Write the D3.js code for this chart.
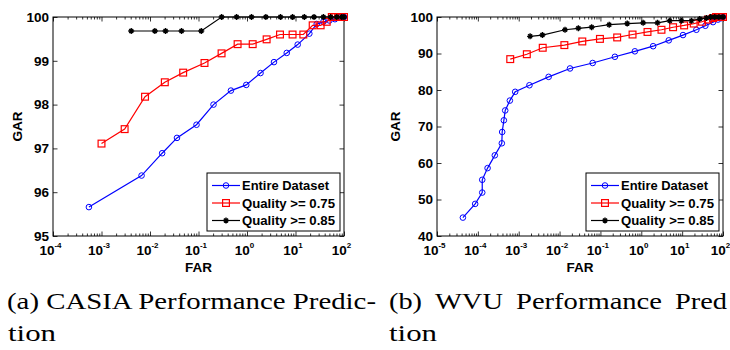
<!DOCTYPE html>
<html>
<head>
<meta charset="utf-8">
<script src="https://cdn.jsdelivr.net/npm/d3@7"></script>
<style>
  html, body { margin: 0; padding: 0; background: #fff; }
  svg { display: block; }
  .lbl { font-family: "Liberation Sans", Arial, sans-serif; font-weight: 700; fill: #000; }
  .cap { font-family: "Liberation Serif", "Times New Roman", serif; font-weight: 400; fill: #000; }
</style>
</head>
<body>
<svg id="chart" width="730" height="350"></svg>
<script>
// ---------- DATA ----------
const seriesNames = ["Entire Dataset", "Quality >= 0.75", "Quality >= 0.85"];

// (a) CASIA
const casiaEntireFAR = [5.5e-4, 6.7e-3, 0.0178, 0.036, 0.091, 0.204, 0.466, 0.966, 1.9, 3.6, 6.6, 11.1, 19.3, 27.4, 37.6, 50, 65, 83, 100];
const casiaEntireGAR = [95.66, 96.38, 96.89, 97.24, 97.54, 98.0, 98.32, 98.45, 98.72, 98.97, 99.18, 99.37, 99.62, 99.84, 99.89, 99.92, 99.95, 100, 100];
const casiaQ75FAR = [1.0e-3, 3.0e-3, 7.9e-3, 0.0202, 0.0483, 0.133, 0.299, 0.64, 1.31, 2.54, 4.79, 8.7, 14.5, 22.6, 33, 44, 56, 66, 76, 87, 100];
const casiaQ75GAR = [97.11, 97.44, 98.18, 98.51, 98.73, 98.95, 99.17, 99.38, 99.38, 99.49, 99.6, 99.6, 99.6, 99.81, 99.81, 99.89, 100, 100, 100, 100, 100];
const casiaQ85FAR = [4.1e-3, 0.0126, 0.0209, 0.0447, 0.114, 0.3, 0.61, 1.24, 2.45, 4.9, 8.7, 15.2, 24.1, 37.6, 53, 71, 90, 100];
const casiaQ85GAR = [99.68, 99.68, 99.68, 99.68, 99.68, 100, 100, 100, 100, 100, 100, 100, 100, 100, 100, 100, 100, 100];

// (b) WVU
const wvuEntireFAR = [4.3e-5, 8.6e-5, 1.28e-4, 1.28e-4, 1.73e-4, 2.6e-4, 3.86e-4, 3.94e-4, 4.33e-4, 4.67e-4, 6.07e-4, 8.2e-4, 1.83e-3, 5.4e-3, 0.018, 0.0646, 0.226, 0.697, 1.95, 4.71, 10.5, 22.3, 37, 57, 75.5, 91, 100];
const wvuEntireGAR = [45.04, 48.8, 51.9, 55.4, 58.6, 62.1, 65.4, 68.5, 71.7, 74.4, 77.1, 79.5, 81.3, 83.6, 85.9, 87.4, 89.1, 90.6, 92.0, 93.6, 95.05, 96.5, 97.6, 98.6, 99.3, 99.7, 100];
const wvuQ75FAR = [6.2e-4, 1.58e-3, 3.87e-3, 0.0131, 0.036, 0.0973, 0.257, 0.611, 1.42, 3.12, 6.0, 11.2, 19.2, 30.7, 42.7, 57, 67.6, 79.4, 91, 100];
const wvuQ75GAR = [88.46, 89.8, 91.57, 92.3, 93.3, 94.0, 94.4, 95.2, 95.9, 96.5, 97.2, 97.7, 98.2, 98.7, 99.3, 99.7, 100, 100, 100, 100];
const wvuQ85FAR = [1.9e-3, 3.8e-3, 0.0136, 0.0288, 0.061, 0.164, 0.453, 1.11, 2.49, 4.98, 9.6, 16.9, 26.9, 39.2, 50, 63, 79.4, 100];
const wvuQ85GAR = [94.7, 95.05, 96.5, 96.9, 97.2, 97.9, 98.2, 98.4, 98.4, 99.0, 99.0, 99.0, 99.45, 99.7, 100, 100, 100, 100];

const casiaYTicks = [95, 96, 97, 98, 99, 100];
const wvuYTicks = [40, 50, 60, 70, 80, 90, 100];
const casiaXDomain = [1e-4, 1e2];
const wvuXDomain = [1e-5, 1e2];
const casiaYDomain = [95, 100];
const wvuYDomain = [40, 100];
const captionA = ["(a) CASIA Performance Predic-", "tion"];
const captionB = ["(b)", "WVU", "Performance", "Pred"];
const captionB2 = "tion";

// ---------- DRAW ----------
const svg = d3.select("#chart");
svg.append("rect").attr("width", 730).attr("height", 350).attr("fill", "#fff");

const colors = ["#0000ff", "#ff0000", "#000000"];

function zip(xs, ys) { return xs.map((x, i) => ({ x, y: ys[i] })); }

function drawPanel(opts) {
  const { left, right, top, bottom, xDomain, yDomain, yTicks, series, gx } = opts;
  const g = svg.append("g");
  const x = d3.scaleLog().domain(xDomain).range([left, right]);
  const y = d3.scaleLinear().domain(yDomain).range([bottom, top]);

  const allTicks = x.ticks();
  const majors = allTicks.filter(t => Math.abs(Math.log10(t) - Math.round(Math.log10(t))) < 1e-9);
  const minors = allTicks.filter(t => !majors.includes(t));

  g.append("g").attr("transform", `translate(0,${bottom})`)
    .call(d3.axisBottom(x).tickValues(minors).tickSize(-2.5).tickSizeOuter(0).tickFormat(""))
    .call(s => s.select(".domain").remove());
  g.append("g").attr("transform", `translate(0,${top})`)
    .call(d3.axisTop(x).tickValues(minors).tickSize(-2.5).tickSizeOuter(0).tickFormat(""))
    .call(s => s.select(".domain").remove());
  g.append("g").attr("transform", `translate(0,${top})`)
    .call(d3.axisTop(x).tickValues(majors).tickSize(-4.5).tickSizeOuter(0).tickFormat(""))
    .call(s => s.select(".domain").remove());
  const xa = g.append("g").attr("transform", `translate(0,${bottom})`)
    .call(d3.axisBottom(x).tickValues(majors).tickSize(-4.5).tickSizeOuter(0).tickPadding(7).tickFormat(""))
    .call(s => s.select(".domain").remove());
  xa.selectAll(".tick").each(function(d) {
    const t = d3.select(this).select("text");
    t.attr("class", "lbl").attr("font-family", null).attr("font-size", 13.5)
      .attr("dy", "0.9em").attr("dx", "-3");
    t.append("tspan").text("10");
    t.append("tspan").text(String(Math.round(Math.log10(d))))
      .attr("font-size", 8).attr("dy", "-7");
  });

  const ya = g.append("g").attr("transform", `translate(${left},0)`)
    .call(d3.axisLeft(y).tickValues(yTicks).tickSize(-4.5).tickSizeOuter(0).tickPadding(4).tickFormat(d3.format("d")))
    .call(s => s.select(".domain").remove());
  ya.selectAll("text").attr("class", "lbl").attr("font-size", 13.5);
  g.append("g").attr("transform", `translate(${right},0)`)
    .call(d3.axisRight(y).tickValues(yTicks).tickSize(-4.5).tickSizeOuter(0).tickFormat(""))
    .call(s => s.select(".domain").remove());
  g.selectAll(".tick line").attr("stroke", "#000").attr("stroke-width", 0.8);
  g.selectAll("g").attr("font-family", null).attr("font-size", null);

  g.append("rect").attr("x", left).attr("y", top).attr("width", right - left).attr("height", bottom - top)
    .attr("fill", "none").attr("stroke", "#000").attr("stroke-width", 1);

  g.append("text").attr("class", "lbl").attr("x", (left + right) / 2).attr("y", bottom + 36)
    .attr("text-anchor", "middle").attr("font-size", 13.5).text("FAR");
  g.append("text").attr("class", "lbl").attr("transform", `translate(${gx},${(top + bottom) / 2}) rotate(-90)`)
    .attr("text-anchor", "middle").attr("font-size", 13.5).text("GAR");

  const clipId = "clip" + left;
  svg.append("clipPath").attr("id", clipId).append("rect")
    .attr("x", left - 6).attr("y", top - 6).attr("width", right - left + 12).attr("height", bottom - top + 12);
  const plot = g.append("g").attr("clip-path", `url(#${clipId})`);
  const line = d3.line().x(d => x(d.x)).y(d => y(d.y));
  series.forEach((s, i) => {
    const pts = zip(s[0], s[1]);
    plot.append("path").datum(pts).attr("d", line).attr("fill", "none")
      .attr("stroke", colors[i]).attr("stroke-width", 1.2);
    drawMarkers(plot, pts.map(p => [x(p.x), y(p.y)]), i);
  });

  const lg = g.append("g");
  const lx = right - 137, ly = bottom - 63;
  lg.append("rect").attr("x", lx).attr("y", ly).attr("width", 133).attr("height", 58)
    .attr("fill", "#fff").attr("stroke", "#000").attr("stroke-width", 1);
  seriesNames.forEach((n, i) => {
    const yy = ly + 12.5 + i * 17.5;
    lg.append("line").attr("x1", lx + 5).attr("x2", lx + 33).attr("y1", yy).attr("y2", yy)
      .attr("stroke", colors[i]).attr("stroke-width", 1.2);
    drawMarkers(lg, [[lx + 19, yy]], i);
    lg.append("text").attr("class", "lbl").attr("x", lx + 35).attr("y", yy).attr("dy", "0.36em")
      .attr("font-size", 13).attr("textLength", i === 0 ? 87 : 93).attr("lengthAdjust", "spacingAndGlyphs").text(n);
  });
}

function drawMarkers(sel, pts, i) {
  if (i === 0) {
    sel.selectAll(null).data(pts).enter().append("circle")
      .attr("cx", d => d[0]).attr("cy", d => d[1]).attr("r", 2.8)
      .attr("fill", "none").attr("stroke", colors[0]).attr("stroke-width", 1);
  } else if (i === 1) {
    sel.selectAll(null).data(pts).enter().append("rect")
      .attr("x", d => d[0] - 3.4).attr("y", d => d[1] - 3.4).attr("width", 6.8).attr("height", 6.8)
      .attr("fill", "none").attr("stroke", colors[1]).attr("stroke-width", 1.2);
  } else {
    sel.selectAll(null).data(pts).enter().append("path")
      .attr("d", d => `M${d[0]-3},${d[1]}L${d[0]+3},${d[1]}M${d[0]},${d[1]-3}L${d[0]},${d[1]+3}M${d[0]-2},${d[1]-2}L${d[0]+2},${d[1]+2}M${d[0]-2},${d[1]+2}L${d[0]+2},${d[1]-2}`)
      .attr("stroke", colors[2]).attr("stroke-width", 1.4).attr("fill", "none");
  }
}

drawPanel({
  left: 53, right: 344, top: 17, bottom: 236,
  xDomain: casiaXDomain, yDomain: casiaYDomain, yTicks: casiaYTicks, gx: 22,
  series: [[casiaEntireFAR, casiaEntireGAR], [casiaQ75FAR, casiaQ75GAR], [casiaQ85FAR, casiaQ85GAR]]
});
drawPanel({
  left: 437, right: 723, top: 17, bottom: 236,
  xDomain: wvuXDomain, yDomain: wvuYDomain, yTicks: wvuYTicks, gx: 400,
  series: [[wvuEntireFAR, wvuEntireGAR], [wvuQ75FAR, wvuQ75GAR], [wvuQ85FAR, wvuQ85GAR]]
});

// captions
svg.append("text").attr("class", "cap").attr("x", 7).attr("y", 309).attr("font-size", 23)
  .attr("textLength", 369).attr("lengthAdjust", "spacingAndGlyphs").text(captionA[0]);
svg.append("text").attr("class", "cap").attr("x", 8).attr("y", 341).attr("font-size", 23)
  .attr("textLength", 48).attr("lengthAdjust", "spacingAndGlyphs").text(captionA[1]);
const bxs = [389, 435, 516, 675];
const bws = [33, 68, 146, 52];
captionB.forEach((w, i) => {
  svg.append("text").attr("class", "cap").attr("x", bxs[i]).attr("y", 309).attr("font-size", 23)
    .attr("textLength", bws[i]).attr("lengthAdjust", "spacingAndGlyphs").text(w);
});
svg.append("text").attr("class", "cap").attr("x", 389).attr("y", 341).attr("font-size", 23)
  .attr("textLength", 48).attr("lengthAdjust", "spacingAndGlyphs").text(captionB2);
</script>
</body>
</html>
